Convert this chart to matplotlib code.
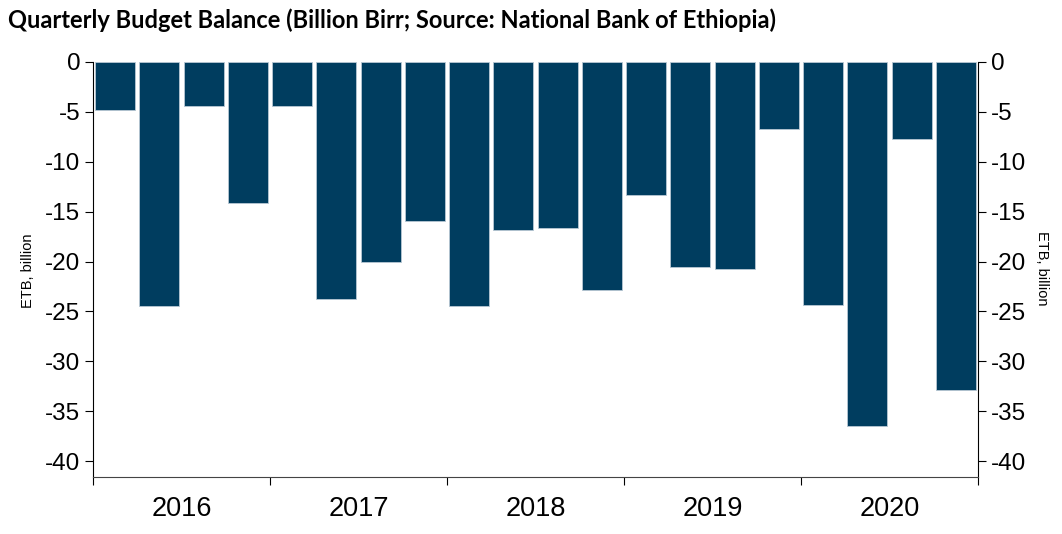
import matplotlib.pyplot as plt
import numpy as np

years = ["2016", "2017", "2018", "2019", "2020"]
balance = [-4.8, -24.45, -4.45, -14.1,
           -4.45, -23.8, -20.0, -15.9,
           -24.45, -16.8, -16.6, -22.85,
           -13.3, -20.5, -20.7, -6.7,
           -24.4, -36.5, -7.7, -32.9]
yticks = [0, -5, -10, -15, -20, -25, -30, -35, -40]

plt.rcParams['font.family'] = ['Liberation Sans', 'DejaVu Sans']

fig = plt.figure(figsize=(10.62, 5.34), dpi=100)
ax = fig.add_axes([93/1062, 1 - 477/534, (978 - 93)/1062, (477 - 62)/534])

x = np.arange(len(balance))
ax.bar(x, balance, width=0.9, color="#003d5f", edgecolor="#b8c8d4", linewidth=0.6)

ax.set_xlim(-0.5, len(balance) - 0.5)
ax.set_ylim(-41.6, 0)
ax.set_yticks(yticks)
ax.set_yticklabels([str(v) for v in yticks])
ax.tick_params(axis='y', labelsize=17.5, length=6, width=0.8, direction='out',
               left=True, right=True, labelleft=True, labelright=True, pad=3)

# year boundaries as ticks, labels at group centres
ax.set_xticks(np.arange(-0.5, len(balance), 4))
ax.set_xticklabels([])
ax.set_xticks(np.arange(1.5, len(balance), 4), minor=True)
ax.set_xticklabels(years, minor=True, fontsize=19.5)
ax.tick_params(axis='x', which='major', length=6, width=0.8, direction='out')
ax.tick_params(axis='x', which='minor', length=0, pad=14)

ax.spines['top'].set_visible(False)
for s in ['left', 'right', 'bottom']:
    ax.spines[s].set_linewidth(0.8)
ax.spines['bottom'].set_color("#444444")

fig.text(28/1062, 1 - 271/534, "ETB, billion", rotation=90, fontsize=10.5,
         ha='center', va='center')
fig.text(1042/1062, 1 - 268/534, "ETB, billion", rotation=-90, fontsize=10.5,
         ha='center', va='center')

fig.text(8/1062, 1 - 20/534, "Quarterly Budget Balance (Billion Birr; Source: National Bank of Ethiopia)",
         fontsize=17, fontweight='bold', family=['Lato', 'DejaVu Sans'],
         ha='left', va='center')

fig.savefig("out.png", dpi=100)
